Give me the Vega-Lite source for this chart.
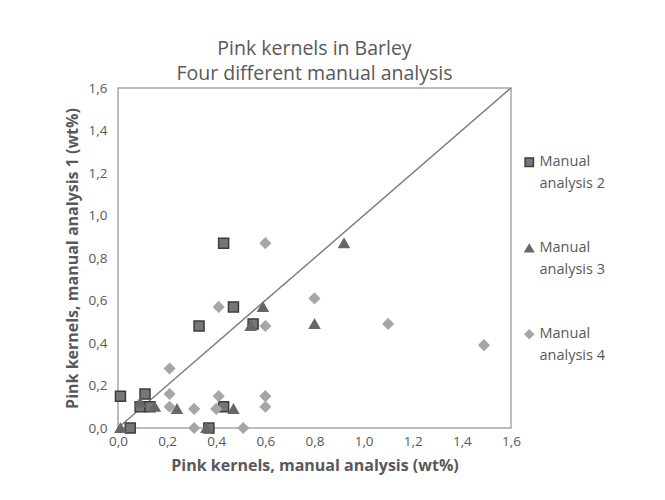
{
  "$schema": "https://vega.github.io/schema/vega-lite/v6.json",
  "autosize": {"type": "none"},
  "width": 393,
  "height": 340,
  "padding": {"left": 118, "top": 88, "right": 154, "bottom": 72},
  "background": "white",
  "title": {
    "text": ["Pink kernels in Barley", "Four different manual analysis"],
    "anchor": "middle",
    "font": "Open Sans",
    "fontSize": 19.5,
    "fontWeight": "normal",
    "color": "#595959",
    "lineHeight": 25,
    "offset": -3
  },
  "config": {
    "view": {"stroke": "#a6a6a6", "strokeWidth": 1.5},
    "style": {"guide-label": {"lineHeight": 22}},
    "axis": {
      "grid": false,
      "ticks": false,
      "domain": false,
      "labelFlush": false,
      "labelFont": "Open Sans",
      "labelFontSize": 13.5,
      "labelColor": "#595959",
      "titleFont": "Open Sans",
      "titleFontSize": 16,
      "titleFontWeight": "bold",
      "titleColor": "#595959"
    }
  },
  "datasets": {
    "pts": [
      {"series": "Manual analysis 2", "x": 0.43, "y": 0.87},
      {"series": "Manual analysis 2", "x": 0.47, "y": 0.57},
      {"series": "Manual analysis 2", "x": 0.33, "y": 0.48},
      {"series": "Manual analysis 2", "x": 0.55, "y": 0.49},
      {"series": "Manual analysis 2", "x": 0.01, "y": 0.15},
      {"series": "Manual analysis 2", "x": 0.11, "y": 0.16},
      {"series": "Manual analysis 2", "x": 0.09, "y": 0.10},
      {"series": "Manual analysis 2", "x": 0.13, "y": 0.10},
      {"series": "Manual analysis 2", "x": 0.43, "y": 0.10},
      {"series": "Manual analysis 2", "x": 0.05, "y": 0.0},
      {"series": "Manual analysis 2", "x": 0.37, "y": 0.0},
      {"series": "Manual analysis 3", "x": 0.01, "y": 0.0},
      {"series": "Manual analysis 3", "x": 0.09, "y": 0.12},
      {"series": "Manual analysis 3", "x": 0.15, "y": 0.10},
      {"series": "Manual analysis 3", "x": 0.24, "y": 0.09},
      {"series": "Manual analysis 3", "x": 0.47, "y": 0.09},
      {"series": "Manual analysis 3", "x": 0.36, "y": 0.0},
      {"series": "Manual analysis 3", "x": 0.54, "y": 0.48},
      {"series": "Manual analysis 3", "x": 0.59, "y": 0.57},
      {"series": "Manual analysis 3", "x": 0.80, "y": 0.49},
      {"series": "Manual analysis 3", "x": 0.92, "y": 0.87},
      {"series": "Manual analysis 4", "x": 0.60, "y": 0.87},
      {"series": "Manual analysis 4", "x": 0.41, "y": 0.57},
      {"series": "Manual analysis 4", "x": 0.60, "y": 0.48},
      {"series": "Manual analysis 4", "x": 0.80, "y": 0.61},
      {"series": "Manual analysis 4", "x": 0.21, "y": 0.28},
      {"series": "Manual analysis 4", "x": 0.21, "y": 0.16},
      {"series": "Manual analysis 4", "x": 0.21, "y": 0.10},
      {"series": "Manual analysis 4", "x": 0.31, "y": 0.09},
      {"series": "Manual analysis 4", "x": 0.41, "y": 0.15},
      {"series": "Manual analysis 4", "x": 0.40, "y": 0.09},
      {"series": "Manual analysis 4", "x": 0.60, "y": 0.15},
      {"series": "Manual analysis 4", "x": 0.60, "y": 0.10},
      {"series": "Manual analysis 4", "x": 0.31, "y": 0.0},
      {"series": "Manual analysis 4", "x": 0.51, "y": 0.0},
      {"series": "Manual analysis 4", "x": 1.10, "y": 0.49},
      {"series": "Manual analysis 4", "x": 1.49, "y": 0.39}
    ],
    "diag": [
      {"x": 0, "y": 0},
      {"x": 1.6, "y": 1.6}
    ]
  },
  "layer": [
    {
      "data": {"name": "diag"},
      "mark": {"type": "line", "color": "#7f7f7f", "strokeWidth": 1.5},
      "encoding": {
        "x": {"field": "x", "type": "quantitative"},
        "y": {"field": "y", "type": "quantitative"}
      }
    },
    {
      "data": {"name": "pts"},
      "mark": {"type": "point", "filled": true, "opacity": 1, "size": 100, "strokeWidth": 1.5},
      "encoding": {
        "x": {
          "field": "x", "type": "quantitative",
          "scale": {"domain": [0, 1.6], "nice": false},
          "axis": {"values": [0, 0.2, 0.4, 0.6, 0.8, 1.0, 1.2, 1.4, 1.6], "labelExpr": "replace(format(datum.value, '.1f'), '.', ',')", "title": "Pink kernels, manual analysis (wt%)", "labelPadding": 6, "titlePadding": 10}
        },
        "y": {
          "field": "y", "type": "quantitative",
          "scale": {"domain": [0, 1.6], "nice": false},
          "axis": {"values": [0, 0.2, 0.4, 0.6, 0.8, 1.0, 1.2, 1.4, 1.6], "labelExpr": "replace(format(datum.value, '.1f'), '.', ',')", "title": "Pink kernels, manual analysis 1 (wt%)", "labelPadding": 11, "titlePadding": 8}
        },
        "color": {
          "field": "series", "type": "nominal",
          "scale": {"domain": ["Manual analysis 2", "Manual analysis 3", "Manual analysis 4"], "range": ["#767676", "#6b6565", "#a6a6a6"]},
          "legend": {
            "title": null,
            "orient": "none",
            "legendX": 404,
            "legendY": 67,
            "rowPadding": 49,
            "labelFont": "Open Sans",
            "labelFontSize": 14.5,
            "labelColor": "#595959",
            "labelLimit": 200,
            "labelBaseline": "middle",
            "labelOffset": 3,
            "symbolSize": 70,
            "symbolOpacity": 1,
            "labelExpr": "['Manual', 'analysis ' + slice(datum.label, -1)]",
            "symbolStrokeWidth": 1.5
          }
        },
        "shape": {
          "field": "series", "type": "nominal",
          "scale": {"domain": ["Manual analysis 2", "Manual analysis 3", "Manual analysis 4"], "range": ["square", "triangle-up", "diamond"]}
        },
        "stroke": {
          "field": "series", "type": "nominal",
          "scale": {"domain": ["Manual analysis 2", "Manual analysis 3", "Manual analysis 4"], "range": ["#3d3d3d", "#6b6565", "#a6a6a6"]}
        }
      }
    }
  ]
}
